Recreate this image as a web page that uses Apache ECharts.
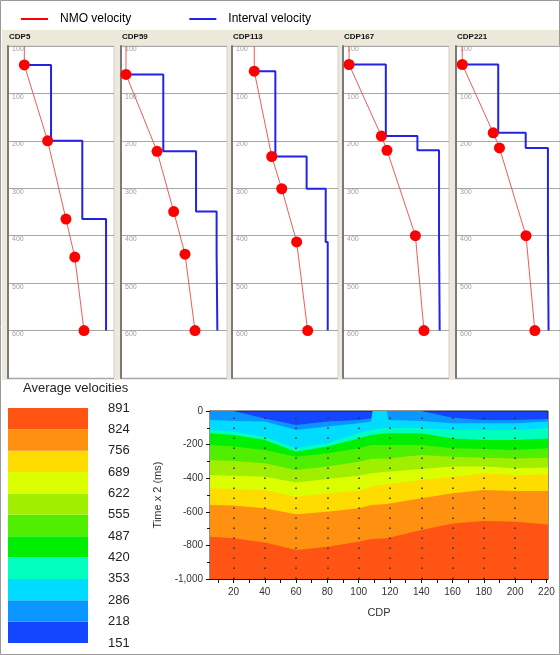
<!DOCTYPE html>
<html>
<head>
<meta charset="utf-8">
<script src="https://cdn.jsdelivr.net/npm/echarts@6/dist/echarts.min.js"></script>
<style>
  html, body { margin: 0; padding: 0; background: #fff; }
  #chart { width: 560px; height: 655px; }
</style>
</head>
<body>
<div id="chart"></div>
<script>
// ---- velocity analysis panels (depth in ms, velocity in panel units 0..1000)
const cdpNames = ['CDP5', 'CDP59', 'CDP113', 'CDP167', 'CDP221'];
const depthLabels = ['100', '100', '200', '300', '400', '500', '600', ''];

const nmoDepth = [
  [40, 200, 365, 445, 600],
  [60, 222, 349, 439, 600],
  [53, 233, 301, 413, 600],
  [39, 190, 220, 400, 600],
  [39, 183, 215, 400, 600],
];
const nmoVel = [
  [154, 374, 547, 630, 717],
  [47, 340, 497, 604, 698],
  [210, 375, 469, 610, 714],
  [57, 362, 415, 683, 764],
  [60, 358, 418, 673, 758],
];
// interval velocity layers: boundaries and velocity inside each layer
const intDepth = [
  [40, 200, 365, 600],
  [60, 222, 349, 439, 600],
  [53, 233, 301, 413, 600],
  [39, 190, 220, 400, 600],
  [39, 183, 215, 400, 600],
];
const intVel = [
  [406, 701, 925],
  [399, 708, 902, 909],
  [409, 704, 884, 903],
  [404, 702, 906, 912],
  [406, 670, 884, 890],
];

// ---- average velocity section: contour edges (time x 2, ms) per CDP
const heatCdp = [5, 20, 40, 60, 80, 100, 108, 109, 118, 119, 140, 160, 180, 200, 221];
const edge218 = [0, 0, -44, -83, -63, -54, -44, 0, 0, 0, 0, -40, -54, -54, -48];
const edge286 = [-54, -60, -63, -113, -93, -73, -63, 0, 0, -54, -60, -73, -73, -73, -63];
const edge353 = [-113, -123, -153, -222, -192, -133, -113, -103, -99, -99, -103, -113, -113, -113, -103];
const edge420 = [-133, -143, -173, -242, -212, -163, -143, -143, -133, -133, -133, -163, -173, -173, -163];
const edge487 = [-202, -212, -232, -272, -252, -222, -202, -202, -202, -202, -202, -222, -226, -232, -222];
const edge555 = [-292, -298, -311, -351, -331, -302, -286, -286, -282, -282, -262, -272, -278, -282, -278];
const edge622 = [-381, -385, -391, -425, -405, -385, -371, -371, -361, -361, -345, -331, -331, -341, -337];
const edge689 = [-460, -464, -470, -510, -490, -476, -450, -450, -436, -436, -411, -391, -371, -381, -377];
const edge756 = [-559, -563, -579, -615, -599, -579, -559, -559, -554, -554, -520, -490, -470, -476, -476];
const edge824 = [-748, -758, -782, -827, -808, -778, -762, -762, -758, -758, -708, -669, -655, -659, -675];

const legendTicks = ['151', '218', '286', '353', '420', '487', '555', '622', '689', '756', '824', '891'];
const bandColors = ['#1446FF', '#0A96FF', '#00DCFF', '#00FFBE', '#00EE00', '#50EE00',
  '#A0EE00', '#DCFF00', '#FFDC00', '#FF9010', '#FF5414'];
const cdpTicks = [10, 20, 30, 40, 50, 60, 70, 80, 90, 100, 110, 120, 130, 140, 150, 160, 170, 180, 190, 200, 210, 220];
const cdpLabels = [20, 40, 60, 80, 100, 120, 140, 160, 180, 200, 220];
const dotCdp = [20, 40, 60, 80, 100, 120, 140, 160, 180, 200];

const font = 'Liberation Sans, Arial, sans-serif';
const panelLeft = [8, 121, 232, 343, 456];
const RED = '#FF0000';
const BLUE = '#2323E6';

const grids = [];
const xAxes = [];
const yAxes = [];
const series = [];
const graphics = [
  { type: 'rect', z: -100, shape: { x: 2, y: 30, width: 558, height: 350 }, style: { fill: '#ECE9DA' } },
  { type: 'rect', z: -100, shape: { x: 0.5, y: 0.5, width: 559, height: 654 },
    style: { fill: 'none', stroke: '#9a9a9a', lineWidth: 1 } },
];

cdpNames.forEach((name, i) => {
  grids.push({ left: panelLeft[i], top: 46, width: 106, height: 332, show: true,
    backgroundColor: '#fff', borderColor: '#cfcfcf', borderWidth: 1 });
  xAxes.push({ gridIndex: i, type: 'value', min: 0, max: 1000, show: false });
  yAxes.push({
    gridIndex: i, type: 'value', inverse: true, min: 0, max: 700, interval: 100,
    axisLine: { show: true, lineStyle: { color: '#7a7a7a', width: 2 } },
    axisTick: { show: false },
    axisLabel: { inside: true, verticalAlign: 'top', margin: 4, fontSize: 7, color: '#a0a0a0',
      fontFamily: font, formatter: (v) => depthLabels[Math.round(v / 100)] },
    splitLine: { lineStyle: { color: '#a8a8a8', width: 1 } },
  });
  graphics.push({ type: 'text', left: panelLeft[i] + 1, top: 33,
    style: { text: name, font: 'bold 8px ' + font, fill: '#111' } });

  const blue = [[nmoVel[i][0], intDepth[i][0]]];
  intVel[i].forEach((v, k) => {
    blue.push([v, intDepth[i][k]]);
    blue.push([v, intDepth[i][k + 1]]);
  });
  series.push({
    name: 'Interval velocity', type: 'line', xAxisIndex: i, yAxisIndex: i,
    data: blue, symbol: 'none', z: 2,
    itemStyle: { color: BLUE }, lineStyle: { color: BLUE, width: 2 },
  });
  const red = [{ value: [nmoVel[i][0], 0], symbol: 'none' }];
  nmoDepth[i].forEach((d, k) => red.push([nmoVel[i][k], d]));
  series.push({
    name: 'NMO velocity', type: 'line', xAxisIndex: i, yAxisIndex: i,
    data: red, symbol: 'circle', symbolSize: 11, z: 3,
    itemStyle: { color: RED }, lineStyle: { color: '#F05A5A', width: 1 },
  });
});

// ---- average velocity section
grids.push({ left: 210, top: 411, width: 338, height: 168, show: true,
  backgroundColor: bandColors[0], borderColor: '#222', borderWidth: 1 });
xAxes.push({
  gridIndex: 5, type: 'value', min: 5, max: 221,
  name: 'CDP', nameLocation: 'middle', nameGap: 28,
  nameTextStyle: { fontSize: 11, color: '#333', fontFamily: font },
  axisLine: { onZero: false, lineStyle: { color: '#111' } },
  axisTick: { customValues: cdpTicks, length: 4, lineStyle: { color: '#111' } },
  axisLabel: { customValues: cdpLabels, fontSize: 10, color: '#333', margin: 8, fontFamily: font },
  splitLine: { show: false },
});
yAxes.push({
  gridIndex: 5, type: 'value', min: -1000, max: 0, interval: 200,
  name: 'Time x 2 (ms)', nameLocation: 'middle', nameGap: 44,
  nameTextStyle: { fontSize: 11, color: '#333', fontFamily: font },
  axisLine: { show: true, onZero: false, lineStyle: { color: '#111' } },
  axisTick: { show: true, length: 4, lineStyle: { color: '#111' } },
  minorTick: { show: true, splitNumber: 2, length: 3, lineStyle: { color: '#111' } },
  axisLabel: { fontSize: 10, color: '#333', margin: 7, fontFamily: font },
  splitLine: { show: false },
});
const edges = [edge218, edge286, edge353, edge420, edge487, edge555, edge622, edge689, edge756, edge824];
edges.forEach((edge, k) => {
  const s = {
    name: 'band' + legendTicks[k + 1], type: 'line', xAxisIndex: 5, yAxisIndex: 5,
    data: heatCdp.map((c, j) => [c, edge[j]]),
    symbol: 'none', silent: true,
    lineStyle: { width: 0, opacity: 0 },
    areaStyle: { color: bandColors[k + 1], opacity: 1, origin: 'start' },
  };
  if (k === edges.length - 1) {
    s.markLine = {
      silent: true, symbol: 'none', label: { show: false },
      lineStyle: { color: '#333', type: [1.5, 8.5], width: 1.5 },
      data: dotCdp.map((c) => ({ xAxis: c })),
    };
  }
  series.push(s);
});

// ---- colour scale
grids.push({ left: 8, top: 408, width: 80, height: 235 });
xAxes.push({ gridIndex: 6, type: 'category', data: ['v'], show: false });
yAxes.push({
  gridIndex: 6, type: 'value', min: 0, max: 11, interval: 1, position: 'right',
  axisLine: { show: false }, axisTick: { show: false }, splitLine: { show: false },
  axisLabel: { margin: 20, fontSize: 13, color: '#222', fontFamily: font,
    formatter: (v) => legendTicks[Math.round(v)] },
});
bandColors.forEach((c, k) => {
  series.push({
    name: 'scale' + k, type: 'bar', xAxisIndex: 6, yAxisIndex: 6, stack: 'scale',
    data: [1], barWidth: '100%', silent: true, itemStyle: { color: c },
  });
});
graphics.push({ type: 'text', left: 23, top: 382,
  style: { text: 'Average velocities', font: '13px ' + font, fill: '#222' } });

const option = {
  animation: false,
  backgroundColor: '#fff',
  legend: {
    data: ['NMO velocity', 'Interval velocity'],
    left: 16, top: 8, icon: 'rect', itemWidth: 27, itemHeight: 2, itemGap: 58,
    textStyle: { fontSize: 12, color: '#000', fontFamily: font, padding: [0, 0, 0, 7] },
  },
  grid: grids,
  xAxis: xAxes,
  yAxis: yAxes,
  graphic: graphics,
  series: series,
};

const chart = echarts.init(document.getElementById('chart'));
chart.setOption(option);
</script>
</body>
</html>
